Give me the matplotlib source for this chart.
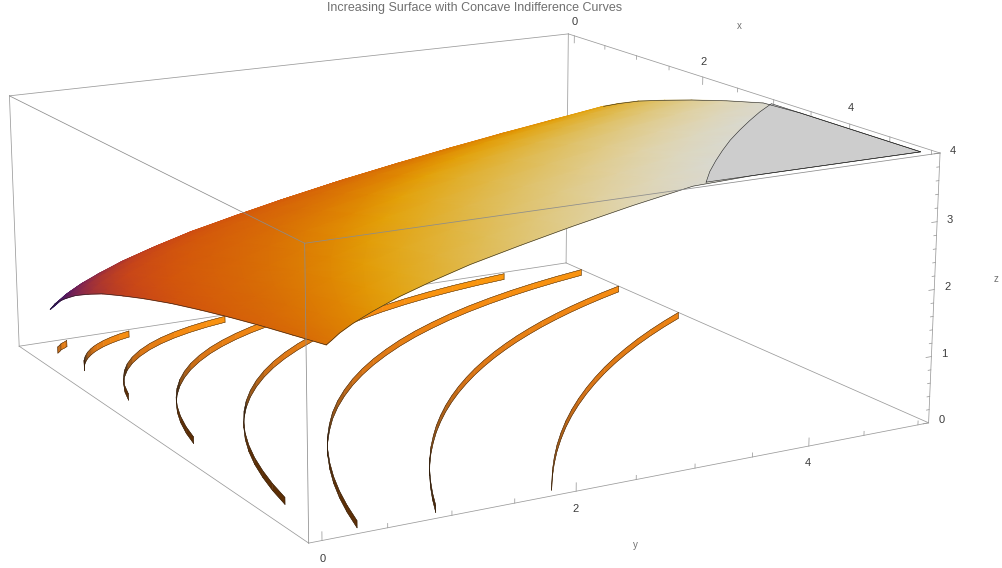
import numpy as np
import matplotlib
matplotlib.use("Agg")
import matplotlib.pyplot as plt
from matplotlib.colors import LinearSegmentedColormap, to_rgb
from mpl_toolkits.mplot3d import proj3d
from mpl_toolkits.mplot3d.art3d import Poly3DCollection

TITLE = "Increasing Surface with Concave Indifference Curves"

# Surface heights, rows follow y and columns follow x.
grid_xy = [0.1, 0.14, 0.2, 0.3, 0.45, 0.65, 0.9, 1.2, 1.6, 2.0, 2.5, 3.0, 3.5, 4.0, 4.5, 5.0]
surface_z = [
    [0.64, 0.69, 0.77, 0.87, 0.99, 1.13, 1.27, 1.42, 1.58, 1.73, 1.90, 2.05, 2.19, 2.32, 2.44, 2.56],
    [0.69, 0.74, 0.82, 0.92, 1.04, 1.18, 1.32, 1.47, 1.63, 1.78, 1.95, 2.10, 2.24, 2.37, 2.49, 2.61],
    [0.77, 0.82, 0.90, 1.00, 1.12, 1.26, 1.40, 1.55, 1.71, 1.86, 2.03, 2.18, 2.32, 2.45, 2.57, 2.69],
    [0.87, 0.92, 1.00, 1.10, 1.22, 1.36, 1.50, 1.65, 1.81, 1.96, 2.13, 2.28, 2.42, 2.55, 2.67, 2.79],
    [0.99, 1.04, 1.12, 1.22, 1.34, 1.48, 1.62, 1.77, 1.93, 2.08, 2.25, 2.40, 2.54, 2.67, 2.79, 2.91],
    [1.13, 1.18, 1.26, 1.36, 1.48, 1.62, 1.76, 1.91, 2.07, 2.22, 2.39, 2.54, 2.68, 2.81, 2.93, 3.05],
    [1.27, 1.32, 1.40, 1.50, 1.62, 1.76, 1.90, 2.05, 2.21, 2.36, 2.53, 2.68, 2.82, 2.95, 3.07, 3.19],
    [1.42, 1.47, 1.55, 1.65, 1.77, 1.91, 2.05, 2.20, 2.36, 2.51, 2.68, 2.83, 2.97, 3.10, 3.22, 3.34],
    [1.58, 1.63, 1.71, 1.81, 1.93, 2.07, 2.21, 2.36, 2.52, 2.67, 2.84, 2.99, 3.13, 3.26, 3.38, 3.50],
    [1.73, 1.78, 1.86, 1.96, 2.08, 2.22, 2.36, 2.51, 2.67, 2.82, 2.99, 3.14, 3.28, 3.41, 3.53, 3.65],
    [1.90, 1.95, 2.03, 2.13, 2.25, 2.39, 2.53, 2.68, 2.84, 2.99, 3.16, 3.31, 3.45, 3.58, 3.70, 3.82],
    [2.05, 2.10, 2.18, 2.28, 2.40, 2.54, 2.68, 2.83, 2.99, 3.14, 3.31, 3.46, 3.60, 3.73, 3.85, 3.97],
    [2.19, 2.24, 2.32, 2.42, 2.54, 2.68, 2.82, 2.97, 3.13, 3.28, 3.45, 3.60, 3.74, 3.87, 3.99, 4.00],
    [2.32, 2.37, 2.45, 2.55, 2.67, 2.81, 2.95, 3.10, 3.26, 3.41, 3.58, 3.73, 3.87, 4.00, 4.00, 4.00],
    [2.44, 2.49, 2.57, 2.67, 2.79, 2.93, 3.07, 3.22, 3.38, 3.53, 3.70, 3.85, 3.99, 4.00, 4.00, 4.00],
    [2.56, 2.61, 2.69, 2.79, 2.91, 3.05, 3.19, 3.34, 3.50, 3.65, 3.82, 3.97, 4.00, 4.00, 4.00, 4.00],
]

# Flat top of the surface at z = 4.
cap_x = [5.0, 4.75, 4.5, 4.25, 4.0, 3.76, 3.53, 3.31, 3.11, 5.0]
cap_y = [3.11, 3.31, 3.53, 3.76, 4.0, 4.25, 4.5, 4.75, 5.0, 5.0]

# Indifference curves on the floor, they mirror over x = y so y is x reversed.
curve1_x = [0.100, 0.130, 0.160, 0.200, 0.234]
curve2_x = [0.100, 0.142, 0.194, 0.250, 0.314, 0.360, 0.410, 0.490, 0.578, 0.677, 0.781]
curve3_x = [0.100, 0.156, 0.226, 0.308, 0.403, 0.511, 0.640, 0.783, 0.931, 1.092, 1.266, 1.452, 1.649]
curve4_x = [0.100, 0.152, 0.221, 0.297, 0.384, 0.483, 0.593, 0.714, 0.846, 1.000,
            1.166, 1.334, 1.513, 1.703, 1.904, 2.117, 2.341, 2.592, 2.836]
curve5_x = [0.100, 0.152, 0.212, 0.286, 0.372, 0.469, 0.578, 0.689, 0.810, 0.951, 1.103, 1.266, 1.440,
            1.626, 1.823, 2.031, 2.250, 2.465, 2.690, 2.941, 3.204, 3.478, 3.764, 4.040, 4.342]
curve6_x = [0.318, 0.402, 0.490, 0.593, 0.706, 0.828, 0.960, 1.103, 1.254, 1.416, 1.588, 1.769, 1.960,
            2.161, 2.372, 2.592, 2.822, 3.063, 3.312, 3.572, 3.842, 4.121, 4.410, 4.692, 5.000]
curve7_x = [0.929, 1.034, 1.145, 1.261, 1.383, 1.510, 1.644, 1.782, 1.927, 2.076, 2.232, 2.393, 2.560,
            2.732, 2.910, 3.094, 3.283, 3.478, 3.679, 3.885, 4.097, 4.314, 4.537, 4.766, 5.000]
curve8_x = [1.860, 2.012, 2.170, 2.333, 2.503, 2.676, 2.859, 3.045, 3.240,
            3.441, 3.644, 3.857, 4.072, 4.295, 4.524, 4.759, 5.000]
curves = [curve1_x, curve2_x, curve3_x, curve4_x, curve5_x, curve6_x, curve7_x, curve8_x]
curve_height = 0.1

x_range = [-0.1, 5.1]
y_range = [-0.1, 5.1]
z_range = [0, 4]

xy_major = [0, 2, 4]
xy_minor = [0.5, 1, 1.5, 2.5, 3, 3.5, 4.5, 5]
z_major = [0, 1, 2, 3, 4]
z_minor = [0.2, 0.4, 0.6, 0.8, 1.2, 1.4, 1.6, 1.8, 2.2, 2.4, 2.6, 2.8, 3.2, 3.4, 3.6, 3.8]

LINE_GREY = "#9a9a9a"
TEXT_DARK = "#3c3c3c"
TEXT_GREY = "#707070"

surface_levels = [0.63, 0.85, 1.10, 1.35, 1.65, 2.00, 2.50, 2.85, 3.00, 3.40, 3.80, 4.00]
surface_colors = ["#2a0f5c", "#3e1564", "#7a2356", "#a83434", "#c8451a", "#d3560c", "#d86c06",
                  "#e08a02", "#e3a208", "#dfbe5a", "#e0d5b0", "#d9d9d0"]

wall_angles = [0, 25, 45, 57, 61, 70, 90]
wall_colors = ["#ffa00c", "#f58a12", "#d87416", "#8a5018", "#3a2410", "#5e3008", "#5a2c02"]


def wall_color(dx, dy):
    """
    Colour of a wall segment from the way it faces the light.
    """
    angle = np.degrees(np.arctan2(abs(dx), abs(dy)))
    rgb = [np.interp(angle, wall_angles, [to_rgb(c)[i] for c in wall_colors]) for i in range(3)]
    return tuple(rgb)


def draw_curve(ax, xs):
    """
    One indifference curve as a low wall standing on the floor.
    """
    ys = xs[::-1]
    quads = []
    colors = []
    for i in range(len(xs) - 1):
        quads.append([(xs[i], ys[i], 0), (xs[i + 1], ys[i + 1], 0),
                      (xs[i + 1], ys[i + 1], curve_height), (xs[i], ys[i], curve_height)])
        colors.append(wall_color(xs[i + 1] - xs[i], ys[i + 1] - ys[i]))
    walls = Poly3DCollection(quads, facecolors=colors, edgecolors=colors, linewidths=0.3, zorder=3)
    ax.add_collection3d(walls)
    zeros = np.zeros(len(xs))
    ax.plot(xs, ys, zeros, color="#201000", lw=0.3, zorder=4)
    ax.plot(xs, ys, zeros + curve_height, color="#201000", lw=0.3, zorder=4)
    for i in (0, -1):
        ax.plot([xs[i], xs[i]], [ys[i], ys[i]], [0, curve_height], color="#201000", lw=0.3, zorder=4)


def draw_ticks(ax):
    """
    Tick marks along the three labelled box edges.
    """
    x1 = x_range[1]
    y1 = y_range[1]
    z1 = z_range[1]
    for value, size in [(v, 0.12) for v in xy_major] + [(v, 0.06) for v in xy_minor]:
        ax.plot([value, value], [y1, y1], [z1, z1 - size], color=LINE_GREY, lw=0.55, zorder=1, clip_on=False)
        ax.plot([x1, x1], [value, value], [0, size], color=LINE_GREY, lw=0.55, zorder=1, clip_on=False)
    for value, size in [(v, 0.05) for v in z_major] + [(v, 0.025) for v in z_minor]:
        ax.plot([x1, x1], [y1, y1 - size], [value, value], color=LINE_GREY, lw=0.55, zorder=1, clip_on=False)


def label_at(ax, over, x, y, z, text, color, size):
    """
    Text centred on the screen position of a point of the box.
    """
    px, py = project(ax, [x], [y], [z])
    over.text(px[0], py[0], text, color=color, fontsize=size, ha="center", va="center")


def draw_labels(ax, over):
    """
    Tick labels and axis letters.
    """
    x1 = x_range[1]
    y1 = y_range[1]
    z1 = z_range[1]
    for value in xy_major:
        label_at(ax, over, value, y1, z1 + 0.24, str(value), TEXT_DARK, 8)
        label_at(ax, over, x1, value, -0.26, str(value), TEXT_DARK, 8)
    for value in z_major:
        label_at(ax, over, x1, y1 + 0.12, value, str(value), TEXT_DARK, 8)
    label_at(ax, over, 2.5, y1, z1 + 0.98, "x", TEXT_GREY, 7)
    label_at(ax, over, x1, 2.5, -0.95, "y", TEXT_GREY, 7)
    label_at(ax, over, x1, y1 + 0.58, 2, "z", TEXT_GREY, 7)


def draw_back_box(ax):
    """
    Box edges that lie behind the surface.
    """
    x0, x1 = x_range
    y0, y1 = y_range
    z0, z1 = z_range
    edges = [([x0, x0], [y0, y1], [z1, z1]), ([x0, x1], [y1, y1], [z1, z1]),
             ([x0, x0], [y0, y0], [z0, z1]), ([x0, x0], [y1, y1], [z0, z1]),
             ([x1, x1], [y1, y1], [z0, z1]), ([x0, x1], [y0, y0], [z0, z0]),
             ([x1, x1], [y0, y1], [z0, z0]), ([x0, x0], [y0, y1], [z0, z0]),
             ([x0, x1], [y1, y1], [z0, z0])]
    for xs, ys, zs in edges:
        ax.plot(xs, ys, zs, color=LINE_GREY, lw=0.55, zorder=1, clip_on=False)


def project(ax, xs, ys, zs):
    """
    Screen position of 3D points, in the data units of the 3D axes.
    """
    xs = np.asarray(xs, dtype=float)
    px, py, _ = proj3d.proj_transform(xs.ravel(), np.asarray(ys, dtype=float).ravel(),
                                      np.asarray(zs, dtype=float).ravel(), ax.get_proj())
    return np.reshape(px, xs.shape), np.reshape(py, xs.shape)


def draw_surface(ax, over):
    """
    Smooth shaded surface, flat cap and the box edges that pass in front of it.
    """
    grid_x, grid_y = np.meshgrid(grid_xy, grid_xy)
    z = np.array(surface_z)
    px, py = project(ax, grid_x, grid_y, z)
    stops = [(lev - surface_levels[0]) / (surface_levels[-1] - surface_levels[0]) for lev in surface_levels]
    cmap = LinearSegmentedColormap.from_list("sunset", list(zip(stops, surface_colors)))
    # rows from far to near, so the steep part at small x ends up hidden
    over.pcolormesh(px[::-1], py[::-1], z[::-1], shading="gouraud", cmap=cmap,
                    vmin=surface_levels[0], vmax=surface_levels[-1], rasterized=True)

    cx, cy = project(ax, cap_x, cap_y, [4] * len(cap_x))
    over.fill(cx, cy, facecolor="#cdcdcd", edgecolor="none", zorder=3)
    over.plot(np.append(cx, cx[0]), np.append(cy, cy[0]), color="#222222", lw=0.4, zorder=4)

    # the edge at small x folds away behind the surface, so it gets no line
    over.plot(px[0, :], py[0, :], color="#222222", lw=0.4, zorder=4)
    over.plot(px[:, -1], py[:, -1], color="#222222", lw=0.4, zorder=4)
    over.plot(px[-1, 5:], py[-1, 5:], color="#222222", lw=0.4, zorder=4)

    x0, x1 = x_range
    y0, y1 = y_range
    z0, z1 = z_range
    for xs, ys, zs in [([x0, x1], [y0, y0], [z1, z1]), ([x1, x1], [y0, y1], [z1, z1]),
                       ([x1, x1], [y0, y0], [z0, z1])]:
        ex, ey = project(ax, xs, ys, zs)
        over.plot(ex, ey, color="#8c8c8c", lw=0.55, zorder=5, clip_on=False)


def main():
    """
    Builds the figure and saves it.
    """
    fig = plt.figure(figsize=(10.02, 5.68), dpi=100)
    fig.patch.set_facecolor("white")

    # axes placed so that the camera below lands the box on the reference corners
    size = 961.69
    position = [-38.07 / 1002, (568 - 748.45) / 568, size / 1002, size / 568]
    ax = fig.add_axes(position, projection="3d", computed_zorder=False)
    ax.set_xlim(x_range)
    ax.set_ylim(y_range)
    ax.set_zlim(z_range)
    ax.view_init(elev=15.1771, azim=-29.4552, roll=0)
    ax.set_proj_type("persp", focal_length=0.5899)
    ax.set_box_aspect((1, 0.999, 0.3989))
    ax.set_axis_off()
    ax.patch.set_alpha(0)

    draw_back_box(ax)
    draw_ticks(ax)
    for xs in curves:
        draw_curve(ax, xs)

    over = fig.add_axes(position, frameon=False)
    draw_surface(ax, over)
    draw_labels(ax, over)
    over.set_xlim(-0.095, 0.09)
    over.set_ylim(-0.095, 0.09)
    over.set_axis_off()

    fig.text(475 / 1002, 1 - 8 / 568, TITLE, color=TEXT_GREY, fontsize=9, ha="center", va="center")

    plt.savefig("out.png", dpi=100)


if __name__ == "__main__":
    plt.rcParams["font.family"] = ["Liberation Sans", "DejaVu Sans"]
    main()
